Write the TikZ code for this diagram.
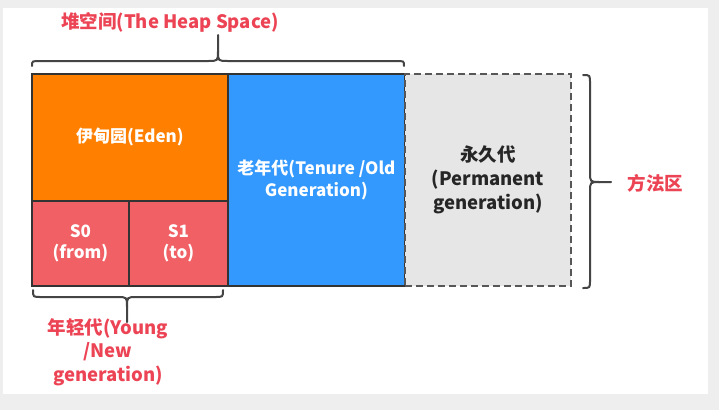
\documentclass[tikz,border=0pt]{standalone}
\usepackage{fontspec}
\setmainfont{Noto Sans CJK SC}
\definecolor{eden}{RGB}{255,128,0}
\definecolor{surv}{RGB}{240,96,100}
\definecolor{oldc}{RGB}{51,153,255}
\definecolor{permc}{RGB}{230,230,230}
\definecolor{lbl}{RGB}{236,68,84}
\definecolor{edge}{RGB}{51,51,51}
\definecolor{brc}{RGB}{68,68,68}
\definecolor{bg}{RGB}{238,238,238}
\begin{document}
\begin{tikzpicture}[x=1pt,y=-1pt,
  area/.style={draw=edge,line width=1.8pt,anchor=north west,inner sep=0pt,align=center,text=white,font=\bfseries\fontsize{17}{21.5}\selectfont},
  permbox/.style={draw=brc!90,line width=1.8pt,dash pattern=on 7pt off 4pt,fill=permc,anchor=north west,inner sep=0pt,align=center,text=black!85,font=\bfseries\fontsize{18.5}{24}\selectfont},
  lab/.style={text=lbl,align=center,font=\bfseries\fontsize{18.5}{23.5}\selectfont},
  brace/.style={draw=brc,line width=2pt,line cap=round}]
\useasboundingbox (0,0) rectangle (719,410);
\fill[bg] (0,0) rectangle (719,410);
\fill[white] (3,8) rectangle (708,394);
% boxes
\node[area,fill=eden,minimum width=196pt,minimum height=127pt] (eden) at (31,73) {伊甸园(Eden)};
\node[area,fill=surv,minimum width=97pt,minimum height=85pt] (s0) at (31,200) {S0\\(from)};
\node[area,fill=surv,minimum width=99pt,minimum height=85pt] (s1) at (128,200) {S1\\(to)};
\node[area,fill=oldc,minimum width=177pt,minimum height=212pt] (old) at (227,73) {老年代(Tenure /Old\\Generation)};
\node[permbox,minimum width=166pt,minimum height=212pt] (perm) at (404,73) {永久代\\(Permanent\\generation)};
% labels
\node[lab] (heap) at (170,22) {堆空间(The Heap Space)};
\node[lab] (young) at (108,352) {年轻代(Young\\/New\\generation)};
\node[lab,anchor=west] (method) at (624,183) {方法区};
% top brace
\draw[brace] (32,66) .. controls (32,61) .. (40,61) -- (208,61) .. controls (218,61) .. (218,51) -- (218,35);
\draw[brace] (218,51) .. controls (218,61) .. (228,61) -- (396,61) .. controls (404,61) .. (404,66);
% bottom brace
\draw[brace] (33,290) .. controls (33,297) .. (41,297) -- (117,297) .. controls (127,297) .. (127,307) -- (127,322);
\draw[brace] (127,307) .. controls (127,297) .. (137,297) -- (215,297) .. controls (223,297) .. (223,290);
% right brace
\draw[brace] (583,75) .. controls (590,75) .. (590,83) -- (590,172) .. controls (590,182) .. (600,182) -- (611,182);
\draw[brace] (600,182) .. controls (590,182) .. (590,192) -- (590,280) .. controls (590,288) .. (583,288);
\end{tikzpicture}
\end{document}
